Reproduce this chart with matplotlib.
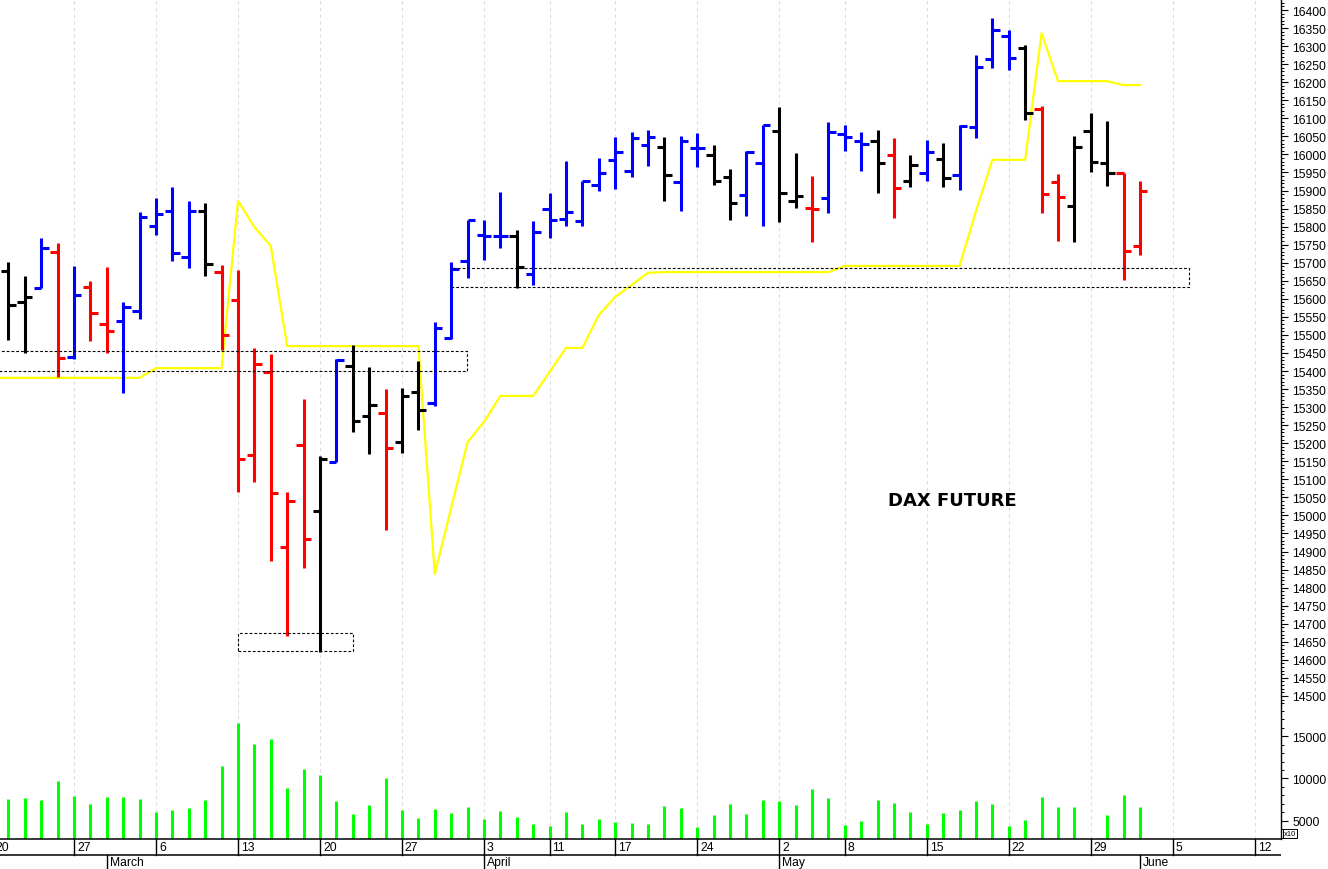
import numpy as np
import matplotlib
matplotlib.use('Agg')
import matplotlib.pyplot as plt
from matplotlib.patches import Rectangle
from matplotlib.ticker import MultipleLocator

plt.rcParams['font.family'] = ['Liberation Sans', 'DejaVu Sans']

# trading day index: 0 = 20 Feb 2023 (Mon); bars run 21 Feb .. 1 Jun
bar_idx = list(range(1, 71))

opens = [15677, 15591, 15630, 15730, 15439, 15633, 15530, 15539, 15566, 15802,
         15843, 15716, 15843, 15674, 15597, 15167, 15397, 14913, 15195, 15012,
         15148, 15414, 15275, 15284, 15203, 15342, 15311, 15491, 15705, 15777,
         15774, 15774, 15669, 15849, 15821, 15816, 15915, 15985, 15954, 16026,
         16021, 15924, 16018, 15998, 15937, 15888, 15976, 16065, 15871, 15852,
         15879, 16057, 16037, 16037, 15998, 15926, 15948, 15987, 15943, 16076,
         16264, 16328, 16295, 16126, 15924, 15857, 16065, 15976, 15948, 15746]
highs = [15702, 15663, 15768, 15755, 15691, 15649, 15688, 15591, 15840, 15879,
         15910, 15871, 15865, 15694, 15680, 15464, 15447, 15065, 15322, 15165,
         15433, 15472, 15411, 15350, 15353, 15428, 15536, 15702, 15818, 15818,
         15896, 15791, 15816, 15893, 15982, 15926, 15990, 16048, 16062, 16068,
         16048, 16051, 16059, 16026, 15960, 16009, 16081, 16131, 16004, 15940,
         16090, 16081, 16062, 16068, 16045, 15998, 16040, 16032, 16081, 16275,
         16378, 16345, 16303, 16134, 15946, 16051, 16115, 16093, 15948, 15926]
lows = [15486, 15450, 15630, 15383, 15433, 15483, 15450, 15339, 15544, 15777,
        15705, 15685, 15663, 15458, 15065, 15093, 14874, 14666, 14854, 14622,
        15148, 15231, 15170, 14960, 15173, 15237, 15303, 15489, 15658, 15708,
        15741, 15630, 15638, 15768, 15802, 15802, 15899, 15904, 15937, 15968,
        15871, 15843, 15965, 15915, 15818, 15829, 15802, 15813, 15852, 15757,
        15838, 16009, 15954, 15893, 15824, 15910, 15926, 15910, 15901, 16045,
        16239, 16234, 16095, 15838, 15760, 15757, 15951, 15912, 15652, 15721]
closes = [15583, 15605, 15741, 15436, 15610, 15561, 15511, 15577, 15827, 15835,
          15727, 15843, 15696, 15500, 15156, 15419, 15062, 15040, 14935, 15156,
          15431, 15262, 15306, 15187, 15331, 15292, 15519, 15683, 15818, 15774,
          15774, 15688, 15785, 15818, 15840, 15926, 15948, 16007, 16045, 16048,
          15943, 16037, 16018, 15926, 15865, 16007, 16081, 15893, 15885, 15849,
          16062, 16048, 16029, 15976, 15907, 15971, 16007, 15935, 16079, 16242,
          16345, 16267, 16115, 15890, 15882, 16021, 15979, 15948, 15732, 15899]
bar_col = ['k', 'k', 'b', 'r', 'b', 'r', 'r', 'b', 'b', 'b',
           'b', 'b', 'k', 'r', 'r', 'r', 'r', 'r', 'r', 'k',
           'b', 'k', 'k', 'r', 'k', 'k', 'b', 'b', 'b', 'b',
           'b', 'k', 'b', 'b', 'b', 'b', 'b', 'b', 'b', 'b',
           'k', 'b', 'b', 'k', 'k', 'b', 'b', 'k', 'k', 'r',
           'b', 'b', 'b', 'k', 'r', 'k', 'b', 'k', 'b', 'b',
           'b', 'b', 'k', 'r', 'r', 'k', 'k', 'k', 'r', 'r']
volume = [7619, 7738, 7500, 9762, 7897, 7024, 7778, 7778, 7579, 6111,
          6310, 6548, 7500, 11429, 16548, 14008, 14643, 8849, 11111, 10437,
          7341, 5833, 6865, 10079, 6310, 5397, 6429, 5952, 6627, 5238,
          6190, 5516, 4643, 4365, 6071, 4643, 5278, 4881, 4802, 4643,
          6786, 6548, 4325, 5714, 6984, 5833, 7460, 7302, 6905, 8810,
          7738, 4484, 5000, 7460, 7143, 6071, 4643, 5952, 6310, 7381,
          6984, 4405, 5119, 7778, 6667, 6667, 2980, 5714, 8095, 6627]
# yellow stop line, from day 0 (20 Feb) to the last bar
stop_idx = list(range(0, 71))
stop_line = [15381,
             15381, 15381, 15381, 15381, 15381, 15381, 15381, 15381, 15381, 15408,
             15408, 15408, 15408, 15408, 15871, 15799, 15746, 15469, 15469, 15469,
             15469, 15469, 15469, 15469, 15469, 15469, 14838, 15021, 15203, 15259,
             15331, 15331, 15331, 15397, 15464, 15464, 15555, 15605, 15638, 15672,
             15674, 15674, 15674, 15674, 15674, 15674, 15674, 15674, 15674, 15674,
             15674, 15691, 15691, 15691, 15691, 15691, 15691, 15691, 15691, 15843,
             15985, 15985, 15985, 16336, 16203, 16203, 16203, 16203, 16192, 16192]

week_idx = [0, 5, 10, 15, 20, 25, 30, 34, 38, 43, 48, 52, 57, 62, 67, 72, 77]
week_lbl = ['20', '27', '6', '13', '20', '27', '3', '11', '17', '24', '2', '8',
            '15', '22', '29', '5', '12']
month_idx = [7, 30, 48, 70]
month_lbl = ['March', 'April', 'May', 'June']

# zones: (x0, x1, low, high)
zones = [(-3, 28.96, 15400, 15455),
         (15.0, 22.0, 14624, 14674),
         (28.0, 73.0, 15633, 15685)]

W, H = 1328, 870
fig = plt.figure(figsize=(W / 100, H / 100), dpi=100)
fig.patch.set_facecolor('white')
xr = 1281 / W
ax = fig.add_axes([0, 1 - 705 / H, xr, 705 / H])
axv = fig.add_axes([0, 1 - 840 / H, xr, 135 / H], sharex=ax)
axd = fig.add_axes([0, 0, xr, 30 / H], sharex=ax)

xlim = (0.488, 78.6)
ax.set_xlim(*xlim)
ax.set_ylim(14477.6, 16430.5)
axv.set_ylim(2882, 18765)
axd.set_ylim(0, 1)

for a in (ax, axv):
    for s in ('top', 'left', 'bottom'):
        a.spines[s].set_visible(False)
    a.spines['right'].set_linewidth(1.0)
    a.yaxis.tick_right()
    a.tick_params(axis='x', which='both', bottom=False, labelbottom=False)
    a.tick_params(axis='y', which='major', length=5, width=0.8, labelsize=8.7, pad=3)
    a.tick_params(axis='y', which='minor', length=2.5, width=0.7)
    for w in week_idx:
        a.axvline(w, color='#dcdcdc', lw=0.8, ls=(0, (3, 3)), zorder=0)

ax.set_yticks(np.arange(14500, 16401, 50))
ax.yaxis.set_minor_locator(MultipleLocator(10))
axv.yaxis.set_major_locator(MultipleLocator(5000))
axv.yaxis.set_minor_locator(MultipleLocator(1000))

x = np.array(bar_idx)
lw = 2.2
ax.vlines(x, lows, highs, colors=bar_col, lw=lw, zorder=3)
ax.hlines(opens, x - 0.45, x, colors=bar_col, lw=lw, zorder=3)
ax.hlines(closes, x, x + 0.45, colors=bar_col, lw=lw, zorder=3)
ax.plot(stop_idx, stop_line, color='#ffff00', lw=1.6, zorder=2)

for x0, x1, lo, hi in zones:
    ax.add_patch(Rectangle((x0, lo), x1 - x0, hi - lo, fill=False, ec='black',
                           lw=0.8, ls=(0, (2.5, 1.8)), zorder=4))

ax.text(58.55, 15043, 'DAX FUTURE', family='DejaVu Sans', fontweight='bold',
        fontsize=13, ha='center', va='center')

axv.vlines(x, 0, volume, colors='#00ff00', lw=2.2)

# date strip
for s in ('left', 'right', 'bottom'):
    axd.spines[s].set_visible(False)
axd.spines['top'].set_linewidth(1.1)
axd.set_xticks([])
axd.set_yticks([])
axd.axhline(0.48, color='black', lw=1.1)
for w, lbl in zip(week_idx, week_lbl):
    axd.plot([w, w], [0.48, 1], color='black', lw=1.0)
    axd.text(w + 0.18, 0.74, lbl, fontsize=8.7, ha='left', va='center', clip_on=True)
for m, lbl in zip(month_idx, month_lbl):
    axd.plot([m, m], [0, 0.48], color='black', lw=1.0)
    axd.text(m + 0.18, 0.22, lbl, fontsize=8.7, ha='left', va='center', clip_on=True)

fig.text(1284 / W, 1 - 834.5 / H, 'x10', fontsize=5.5, ha='left', va='center',
         bbox=dict(boxstyle='square,pad=0.15', fc='white', ec='black', lw=0.7))

fig.savefig('out.png', dpi=100)
